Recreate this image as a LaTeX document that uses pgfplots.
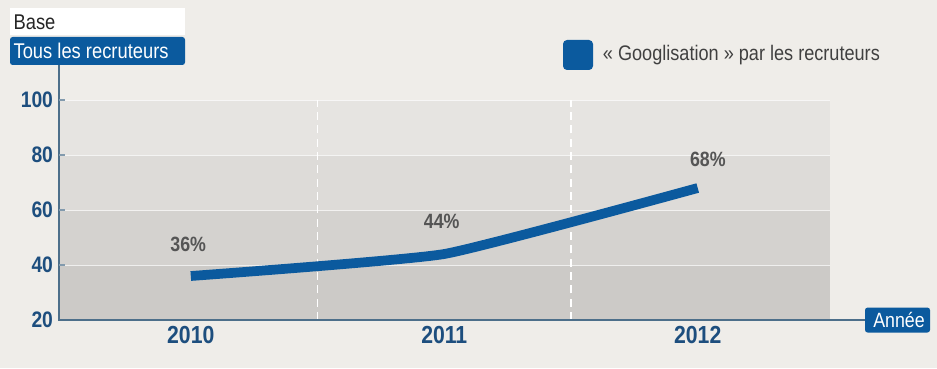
\documentclass[border=0pt]{standalone}
\usepackage{pgfplots}
\pgfplotsset{compat=1.18}
\usepackage{fontspec}
\setmainfont{Liberation Sans}[FakeStretch=0.86]
\definecolor{bg}{HTML}{EFEDE9}
\definecolor{bandA}{HTML}{E6E4E1}
\definecolor{bandB}{HTML}{DDDBD8}
\definecolor{bandC}{HTML}{D4D2CF}
\definecolor{bandD}{HTML}{CCCAC7}
\definecolor{lineblue}{HTML}{0B5A9E}
\definecolor{tickblue}{HTML}{1D4E7E}
\definecolor{axisgray}{HTML}{4D6F8A}
\definecolor{labgray}{HTML}{555555}
\begin{document}
\begin{tikzpicture}
\useasboundingbox (0pt,0pt) rectangle (702.75pt,276pt);
\fill[bg] (0pt,0pt) rectangle (702.75pt,276pt);
% Base boxes
\fill[white] (7.5pt,249.75pt) rectangle (138.75pt,270pt);
\node[anchor=west,inner sep=0pt,font=\fontsize{16}{16}\selectfont,text=black!85] at (10pt,259.2pt) {Base};
\fill[lineblue,rounded corners=2pt] (7.5pt,227.25pt) rectangle (138.75pt,248.25pt);
\node[anchor=west,inner sep=0pt,font=\fontsize{16}{16}\selectfont,text=white] at (10pt,237.75pt) {Tous les recruteurs};
% Legend
\fill[lineblue,rounded corners=3pt] (422.25pt,223.5pt) rectangle (444.75pt,246pt);
\node[anchor=west,inner sep=0pt,font=\fontsize{15.8}{15.8}\selectfont,text=black!75] at (452pt,234.75pt) {« Googlisation » par les recruteurs};
\begin{axis}[
  at={(44.25pt,36pt)}, anchor=south west,
  scale only axis, width=604.5pt, height=165pt,
  xmin=-0.52, xmax=2.66, ymin=20, ymax=100,
  clip=false,
  axis line style={draw=none},
  xtick={0,1,2}, xticklabels={2010,2011,2012},
  ytick={20,40,60,80,100},
  major tick length=0pt,
  tick style={draw=none},
  xticklabel style={font=\fontsize{18.5}{18.5}\selectfont\bfseries, text=tickblue, yshift=-1pt},
  yticklabel style={font=\fontsize{16.8}{16.8}\selectfont\bfseries, text=tickblue, xshift=-1pt},
  /pgf/number format/assume math mode=true,
]
\fill[bandD] (axis cs:-0.52,20) rectangle (axis cs:2.52,40);
\fill[bandC] (axis cs:-0.52,40) rectangle (axis cs:2.52,60);
\fill[bandB] (axis cs:-0.52,60) rectangle (axis cs:2.52,80);
\fill[bandA] (axis cs:-0.52,80) rectangle (axis cs:2.52,100);
\draw[white,line width=0.6pt,opacity=0.7] (axis cs:-0.52,40) -- (axis cs:2.52,40);
\draw[white,line width=0.6pt,opacity=0.7] (axis cs:-0.52,60) -- (axis cs:2.52,60);
\draw[white,line width=0.6pt,opacity=0.7] (axis cs:-0.52,80) -- (axis cs:2.52,80);
\draw[white,line width=0.6pt,opacity=0.7] (axis cs:-0.52,100) -- (axis cs:2.52,100);
\draw[white,line width=1pt,dash pattern=on 6pt off 4pt] (axis cs:0.5,20) -- (axis cs:0.5,100);
\draw[white,line width=1pt,dash pattern=on 6pt off 4pt] (axis cs:1.5,20) -- (axis cs:1.5,100);
% axis lines
\draw[axisgray,line width=1.2pt] (axis cs:-0.52,112.7) -- (axis cs:-0.52,20) -- (axis cs:2.66,20);
\draw[axisgray!70,line width=0.8pt] (axis cs:-0.52,40) -- ++(4.5pt,0pt);
\draw[axisgray!70,line width=0.8pt] (axis cs:-0.52,60) -- ++(4.5pt,0pt);
\draw[axisgray!70,line width=0.8pt] (axis cs:-0.52,80) -- ++(4.5pt,0pt);
\draw[axisgray!70,line width=0.8pt] (axis cs:-0.52,100) -- ++(4.5pt,0pt);
\addplot[lineblue, line width=7.3pt, smooth, tension=0.25] coordinates {(0,36) (1,44) (2,68)};
\node[font=\fontsize{15.5}{15.5}\selectfont\bfseries,text=labgray] at (axis cs:-0.01,47.5) {36\%};
\node[font=\fontsize{15.5}{15.5}\selectfont\bfseries,text=labgray] at (axis cs:0.99,55.8) {44\%};
\node[font=\fontsize{15.5}{15.5}\selectfont\bfseries,text=labgray] at (axis cs:2.04,78.5) {68\%};
% Annee box
\fill[lineblue,rounded corners=2pt] (axis cs:2.66,20) ++(0pt,-9.4pt) rectangle ++(48.75pt,18.75pt);
\node[anchor=west,inner sep=0pt,font=\fontsize{15.5}{15.5}\selectfont,text=white] at (axis cs:2.66,20) {\hspace{6pt}Année};
\end{axis}
\end{tikzpicture}
\end{document}
